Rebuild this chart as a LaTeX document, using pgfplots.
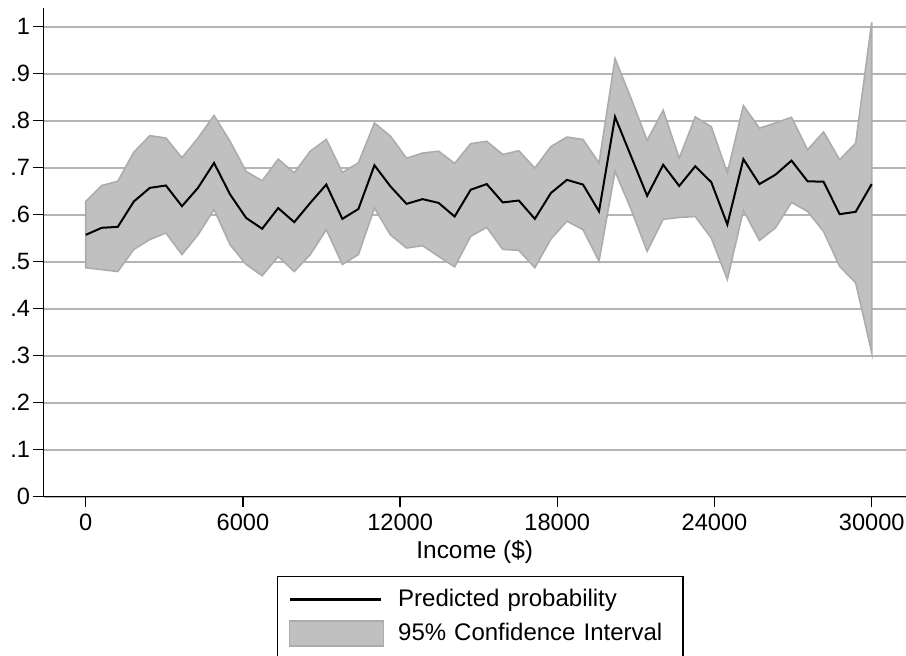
\documentclass[border=0pt]{standalone}
\usepackage{pgfplots}
\pgfplotsset{compat=1.18}
\usepgfplotslibrary{fillbetween}
\usepackage{fontspec}
\setmainfont{Liberation Sans}

\definecolor{bandfill}{RGB}{192,192,192}
\definecolor{bandedge}{RGB}{172,172,172}
\definecolor{gridgray}{RGB}{180,180,180}

% income, predicted probability, lower and upper 95% bound
\pgfplotstableread{
x p lo hi
0 .557 .487 .628
612.2 .572 .483 .662
1224.5 .574 .479 .671
1836.7 .628 .526 .733
2449.0 .657 .547 .768
3061.2 .662 .561 .763
3673.5 .618 .515 .721
4285.7 .657 .557 .763
4898.0 .710 .611 .811
5510.2 .643 .536 .756
6122.4 .593 .494 .692
6734.7 .570 .470 .672
7346.9 .614 .511 .718
7959.2 .584 .479 .689
8571.4 .625 .515 .735
9183.7 .664 .568 .760
9795.9 .591 .494 .690
10408.2 .612 .515 .710
11020.4 .705 .614 .795
11632.7 .660 .557 .767
12244.9 .623 .529 .720
12857.1 .633 .534 .731
13469.4 .625 .511 .735
14081.6 .596 .489 .709
14693.9 .653 .554 .751
15306.1 .665 .573 .756
15918.4 .626 .526 .728
16530.6 .630 .524 .736
17142.9 .591 .487 .699
17755.1 .646 .548 .745
18367.3 .674 .586 .765
18979.6 .664 .568 .760
19591.8 .607 .501 .710
20204.1 .808 .692 .932
20816.3 .724 .611 .847
21428.6 .640 .522 .758
22040.8 .706 .590 .822
22653.1 .661 .594 .720
23265.3 .703 .596 .808
23877.6 .669 .550 .787
24489.8 .579 .462 .689
25102.0 .718 .609 .832
25714.3 .665 .545 .784
26326.5 .685 .572 .795
26938.8 .715 .626 .807
27551.0 .671 .607 .738
28163.3 .670 .564 .776
28775.5 .601 .490 .717
29387.8 .606 .455 .752
30000 .665 .307 1.009
}\income

\begin{document}
\begin{tikzpicture}
\begin{axis}[
  scale only axis,
  width=431.25pt, height=244.2pt,
  xmin=-1611, xmax=31309,
  ymin=0, ymax=1.039,
  axis x line=bottom, axis y line=left,
  axis line style={-, black, line width=0.7pt},
  tick style={black, line width=0.7pt},
  major tick length=5pt,
  tick align=outside,
  scaled ticks=false,
  xtick={0,6000,12000,18000,24000,30000},
  xticklabels={0,6000,12000,18000,24000,30000},
  ytick={0,0.1,0.2,0.3,0.4,0.5,0.6,0.7,0.8,0.9,1},
  yticklabels={0,.1,.2,.3,.4,.5,.6,.7,.8,.9,1},
  /pgf/number format/assume math mode=true,
  ticklabel style={font=\fontsize{11.8}{14}\selectfont},
  yticklabel style={inner xsep=1.5pt},
  ymajorgrids,
  major grid style={gridgray, line width=1pt},
  xlabel={Income (\$)},
  xlabel style={font=\fontsize{12.2}{14}\selectfont, yshift=2pt},
  legend style={at={(axis description cs:0.2707,-0.1624)}, anchor=north west,
    draw=black, line width=0.7pt, inner xsep=5.5pt, inner ysep=3pt,
    font=\fontsize{12}{14}\selectfont,
    nodes={inner sep=0pt, text width=137pt, minimum height=17pt, align=left},
    cells={anchor=west}, row sep=0pt},
]
\addplot[name path=hi, draw=none, forget plot] table[x=x, y=hi] {\income};
\addplot[name path=lo, draw=none, forget plot] table[x=x, y=lo] {\income};
\addplot[fill=bandfill, draw=bandedge, line width=0.8pt, forget plot] fill between[of=hi and lo];
\addplot[black, line width=1pt, forget plot] table[x=x, y=p] {\income};

\addlegendimage{legend image code/.code={
  \draw[black, line width=1.3pt] (0pt,0pt) -- (45.5pt,0pt);
  \path (53.5pt,0pt);}}
\addlegendentry{Predicted probability}
\addlegendimage{legend image code/.code={
  \draw[fill=bandfill, draw=bandedge, line width=0.8pt] (-0.5pt,-6.25pt) rectangle (46.5pt,6.25pt);
  \path (53.5pt,0pt);}}
\addlegendentry{95\% Confidence Interval}
\end{axis}
\pgfresetboundingbox
\path[use as bounding box] (-21.75pt,-79.65pt) rectangle (431.25pt,248.35pt);
\end{tikzpicture}
\end{document}
